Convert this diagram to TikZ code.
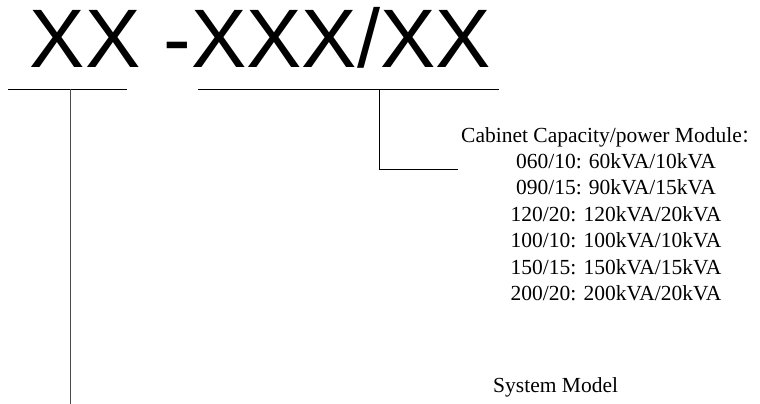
\documentclass[tikz,border=0pt]{standalone}
\usepackage{fontspec}
\setmainfont{Liberation Serif}
\newfontfamily\arialfont{Liberation Sans}
\newfontfamily\cjk{Noto Sans CJK SC}
\begin{document}
\begin{tikzpicture}[x=1pt,y=-1pt,
  bigcode/.style={font=\arialfont\fontsize{83}{90}\selectfont, inner sep=0pt, anchor=base west},
  desc/.style={font=\fontsize{21.5}{26}\selectfont, inner sep=0pt},
  leader/.style={line width=0.9pt, draw=black}]
\useasboundingbox[fill=white] (0,0) rectangle (760,404);
% model code
\node[bigcode] (code) at (29.5,67) {XX -XXX/XX};
% underline brackets
\coordinate (la) at (8,89);
\coordinate (lb) at (127,89);
\coordinate (lm) at (70,89);
\coordinate (lend) at (70,404);
\coordinate (ra) at (198,89);
\coordinate (rb) at (499,89);
\coordinate (rm) at (379,89);
\coordinate (rc) at (379,169);
\coordinate (rend) at (458,169);
\draw[leader] (la) -- (lb);
\draw[leader] (ra) -- (rb);
\draw[leader, draw=black!70] (lm) -- (lend);
\draw[leader] (rm) -- (rc) -- (rend);
% descriptions
\node[desc, anchor=base west] (cap) at (461,142) {Cabinet Capacity/power Module\makebox[0.45em][l]{\cjk\fontsize{18}{20}\selectfont ：}};
\node[desc, anchor=base] (l1) at (616,168.4) {060/10: 60kVA/10kVA};
\node[desc, anchor=base] (l2) at (616,194.8) {090/15: 90kVA/15kVA};
\node[desc, anchor=base] (l3) at (616,221.2) {120/20: 120kVA/20kVA};
\node[desc, anchor=base] (l4) at (616,247.6) {100/10: 100kVA/10kVA};
\node[desc, anchor=base] (l5) at (616,274) {150/15: 150kVA/15kVA};
\node[desc, anchor=base] (l6) at (616,300.4) {200/20: 200kVA/20kVA};
\node[desc, anchor=base west] (sys) at (493,392) {System Model};
\end{tikzpicture}
\end{document}
